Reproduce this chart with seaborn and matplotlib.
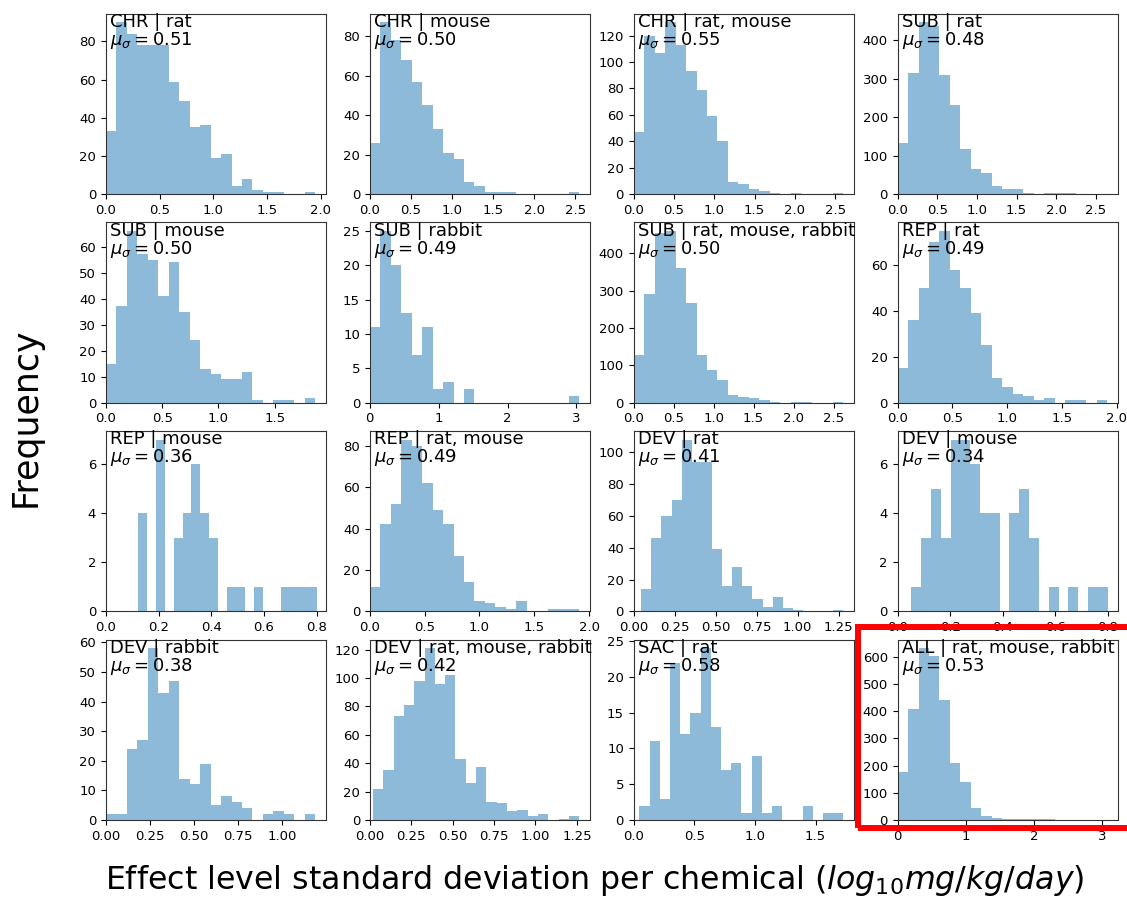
import numpy as np
import pandas as pd
import matplotlib
matplotlib.use("Agg")
import matplotlib.pyplot as plt
from matplotlib.ticker import MaxNLocator
from matplotlib.patches import Rectangle
import seaborn as sns

# Panel titles (study type | species) and mean standard deviation per panel
panel_titles = [
    "CHR | rat", "CHR | mouse", "CHR | rat, mouse", "SUB | rat",
    "SUB | mouse", "SUB | rabbit", "SUB | rat, mouse, rabbit", "REP | rat",
    "REP | mouse", "REP | rat, mouse", "DEV | rat", "DEV | mouse",
    "DEV | rabbit", "DEV | rat, mouse, rabbit", "SAC | rat", "ALL | rat, mouse, rabbit",
]
mean_sigma = [0.51, 0.50, 0.55, 0.48,
              0.50, 0.49, 0.50, 0.49,
              0.36, 0.49, 0.41, 0.34,
              0.38, 0.42, 0.58, 0.53]

# Range of the per-chemical standard deviations (20 equal bins span it)
range_low = [0.0, 0.0, 0.0, 0.0,
             0.0, 0.0, 0.0, 0.0,
             0.121, 0.0, 0.046, 0.052,
             0.0, 0.019, 0.048, 0.0]
range_high = [1.95, 2.55, 2.60, 2.64,
              1.86, 3.04, 2.62, 1.91,
              0.80, 1.91, 1.28, 0.80,
              1.19, 1.265, 1.73, 3.07]

# Chemical counts per bin
counts_chr_rat = [33, 90, 84, 78, 78, 78, 59, 49, 35, 36, 19, 21, 4, 8, 2, 1, 1, 0, 0, 1]
counts_chr_mouse = [26, 87, 78, 68, 57, 45, 33, 21, 18, 6, 4, 1, 1, 1, 0, 0, 0, 0, 0, 1]
counts_chr_rat_mouse = [47, 120, 107, 130, 113, 93, 79, 59, 40, 9, 8, 4, 2, 1, 0, 1, 0, 0, 0, 1]
counts_sub_rat = [133, 315, 447, 437, 311, 232, 117, 65, 55, 22, 13, 13, 4, 1, 2, 2, 2, 0, 0, 1]
counts_sub_mouse = [15, 37, 66, 57, 55, 41, 54, 35, 24, 13, 11, 9, 9, 12, 1, 0, 1, 1, 0, 2]
counts_sub_rabbit = [11, 25, 20, 13, 7, 11, 2, 3, 0, 2, 0, 0, 0, 0, 0, 0, 0, 0, 0, 1]
counts_sub_all_species = [128, 291, 455, 460, 362, 268, 127, 87, 62, 21, 16, 13, 6, 3, 0, 2, 3, 0, 0, 3]
counts_rep_rat = [15, 36, 50, 70, 75, 58, 50, 39, 25, 11, 7, 4, 3, 1, 2, 0, 1, 1, 0, 1]
counts_rep_mouse = [4, 0, 7, 0, 3, 4, 6, 4, 3, 0, 1, 1, 0, 1, 0, 0, 1, 1, 1, 1]
counts_rep_rat_mouse = [12, 42, 52, 83, 80, 62, 49, 42, 27, 14, 5, 4, 2, 1, 5, 0, 0, 1, 1, 1]
counts_dev_rat = [14, 46, 60, 70, 108, 94, 94, 39, 16, 28, 16, 8, 3, 9, 2, 1, 0, 0, 0, 1]
counts_dev_mouse = [1, 3, 5, 3, 7, 7, 6, 4, 4, 0, 4, 5, 3, 0, 1, 0, 1, 0, 1, 1]
counts_dev_rabbit = [2, 2, 24, 27, 58, 43, 47, 14, 12, 19, 5, 8, 6, 4, 0, 2, 3, 2, 0, 2]
counts_dev_all_species = [22, 35, 73, 81, 98, 121, 96, 102, 43, 26, 37, 13, 12, 6, 7, 3, 4, 0, 1, 3]
counts_sac_rat = [2, 11, 3, 22, 12, 15, 24, 13, 7, 8, 1, 9, 1, 2, 0, 0, 2, 0, 1, 1]
counts_all = [177, 410, 632, 605, 442, 210, 141, 45, 13, 8, 4, 3, 3, 2, 2, 1, 1, 0, 0, 1]

panel_counts = [
    counts_chr_rat, counts_chr_mouse, counts_chr_rat_mouse, counts_sub_rat,
    counts_sub_mouse, counts_sub_rabbit, counts_sub_all_species, counts_rep_rat,
    counts_rep_mouse, counts_rep_rat_mouse, counts_dev_rat, counts_dev_mouse,
    counts_dev_rabbit, counts_dev_all_species, counts_sac_rat, counts_all,
]

fig, axes = plt.subplots(4, 4, figsize=(11.27, 9.01), dpi=100)
fig.subplots_adjust(left=0.0939, right=0.9916, top=0.9847, bottom=0.0899,
                    wspace=0.2, hspace=0.157)

for ax, title, mu, lo, hi, counts in zip(axes.flat, panel_titles, mean_sigma,
                                         range_low, range_high, panel_counts):
    edges = np.linspace(lo, hi, len(counts) + 1)
    centers = 0.5 * (edges[:-1] + edges[1:])
    df = pd.DataFrame({"sigma": centers, "n": counts})
    sns.histplot(data=df, x="sigma", weights="n", bins=edges.tolist(), ax=ax,
                 color="#1f77b4", alpha=0.5, linewidth=0)
    ax.set_xlim(0, hi + 0.05 * (hi - lo))
    ax.set_ylim(0, max(counts) * 1.05)
    ax.set_xlabel("")
    ax.set_ylabel("")
    ax.xaxis.set_major_locator(MaxNLocator(nbins=6, steps=[1, 2, 2.5, 5, 10]))
    ax.yaxis.set_major_locator(MaxNLocator(nbins=7, steps=[1, 2, 2.5, 5, 10]))
    ax.tick_params(labelsize=9.5, length=3.5, width=0.8)
    for sp in ax.spines.values():
        sp.set_linewidth(0.8)
        sp.set_color("#333333")
    ax.text(0.02, 1.005, f"{title}\n$\\mu_\\sigma = {mu:.2f}$",
            transform=ax.transAxes, ha="left", va="top", fontsize=13,
            linespacing=0.95)

fig.text(0.023, 0.537, "Frequency", rotation=90, ha="center", va="center",
         fontsize=25)
fig.text(0.528, 0.023,
         "Effect level standard deviation per chemical ($log_{10}mg/kg/day$)",
         ha="center", va="center", fontsize=22.8)

# Highlight frame around the pooled panel
fig.add_artist(Rectangle((858 / 1127, 1 - 828 / 901), (1140 - 858) / 1127,
                         (828 - 627) / 901, transform=fig.transFigure,
                         fill=False, edgecolor="red", linewidth=4.3,
                         clip_on=False))

fig.savefig("out.png", dpi=100)
